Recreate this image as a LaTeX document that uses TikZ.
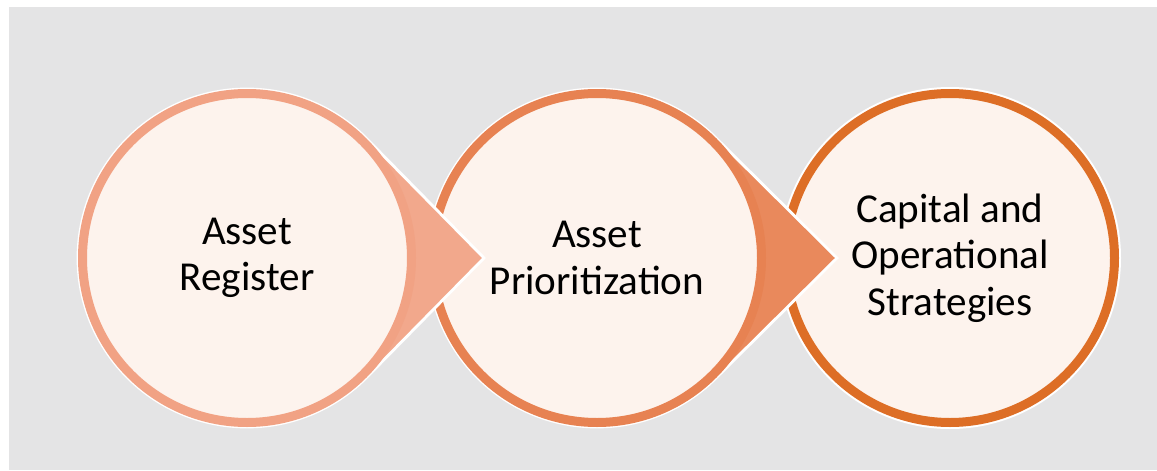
\documentclass[tikz,border=0pt]{standalone}
\usepackage{fontspec}
\setmainfont{Carlito}
\usepackage{tikz}
\usetikzlibrary{calc}
\definecolor{bggray}{RGB}{228,228,229}
\definecolor{discfill}{RGB}{253,243,237}
\definecolor{ringA}{RGB}{241,162,132}
\definecolor{tipA}{RGB}{242,168,140}
\definecolor{ringB}{RGB}{231,130,82}
\definecolor{tipB}{RGB}{233,137,92}
\definecolor{ringC}{RGB}{221,110,38}
\newcommand{\stepfont}{\fontsize{11.7}{13.2}\selectfont}
\tikzset{
  disc/.style={circle, draw=#1, fill=discfill, line width=0.09cm,
               minimum size=3.29cm, inner sep=0pt},
  halo/.style={fill=white},
  tipshape/.style={fill=#1, draw=white, line width=0.8pt},
  lbl/.style={align=center, font=\stepfont, text=black},
}

\begin{document}
\begin{tikzpicture}
  \useasboundingbox (0,0) rectangle (11.57,4.70);
  \fill[white] (0,0) rectangle (11.57,4.70);
  \fill[bggray] (0.09,0) rectangle (11.57,4.63);

  \coordinate (c1) at (2.47,2.12);
  \coordinate (c2) at (5.97,2.12);
  \coordinate (c3) at (9.50,2.12);
  \coordinate (tip1) at ($(c1)+(2.37,0)$);
  \coordinate (tip2) at ($(c2)+(2.40,0)$);

  % ── last step: plain circle ─────────────────────────────
  \fill[halo] (c3) circle (1.71);
  \node[disc=ringC] (s3) at (c3) {};
  \node[lbl] (t3) at (s3) {Capital and\\Operational\\Strategies};

  % ── middle step: circle with arrow tip ──────────────────
  \filldraw[tipshape=tipB] (tip2) -- ($(c2)+(44.5:1.69)$)
    arc[start angle=44.5, end angle=315.5, radius=1.69] -- cycle;
  \node[disc=ringB] (s2) at (c2) {};
  \node[lbl] (t2) at (s2) {Asset\\Prioritization};

  % ── first step: circle with arrow tip ───────────────────
  \filldraw[tipshape=tipA] (tip1) -- ($(c1)+(44.5:1.69)$)
    arc[start angle=44.5, end angle=315.5, radius=1.69] -- cycle;
  \node[disc=ringA] (s1) at (c1) {};
  \node[lbl] (t1) at (s1) {Asset\\Register};
\end{tikzpicture}
\end{document}
